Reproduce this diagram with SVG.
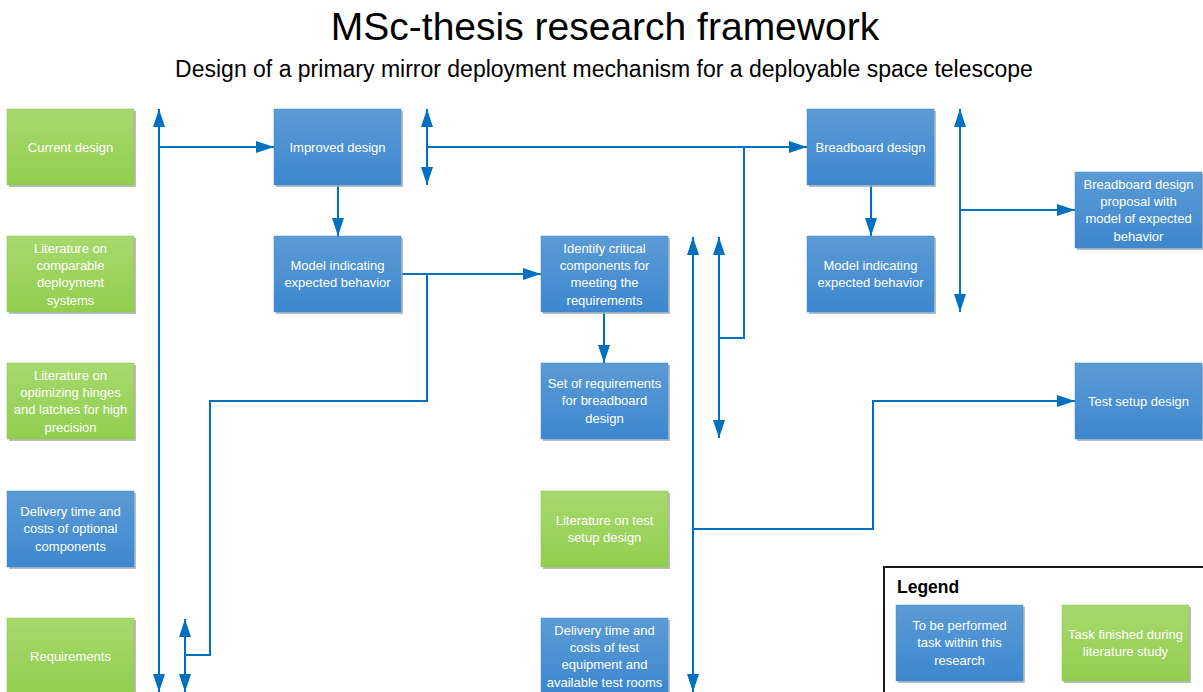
<svg xmlns="http://www.w3.org/2000/svg" width="1203" height="692" viewBox="0 0 1203 692">
<defs>
<linearGradient id="gBlue" x1="0" y1="0" x2="0" y2="1"><stop offset="0" stop-color="#5B9BD5"/><stop offset="1" stop-color="#3D87CF"/></linearGradient>
<linearGradient id="gGreen" x1="0" y1="0" x2="0" y2="1"><stop offset="0" stop-color="#A7D86E"/><stop offset="1" stop-color="#92CF4E"/></linearGradient>
<marker id="ah" viewBox="0 0 18 12" markerWidth="18" markerHeight="12" refX="18" refY="6" orient="auto-start-reverse" markerUnits="userSpaceOnUse"><path d="M0,0 L18,6 L0,12 Z" fill="#0070C0"/></marker>
</defs>
<style>
.blue{fill:url(#gBlue);stroke:#4A8CCB;stroke-width:0.5}
.green{fill:url(#gGreen);stroke:#8CC24E;stroke-width:0.5}
.sh{fill:#A3ADB7;opacity:0.8}
.t{font-family:"Liberation Sans",Arial,sans-serif;font-size:13px;fill:#FFFFFF;text-anchor:middle}
.c{fill:none;stroke:#0070C0;stroke-width:2}
.a1{marker-end:url(#ah)}
.a2{marker-start:url(#ah);marker-end:url(#ah)}
</style>
<rect width="1203" height="692" fill="#FFFFFF"/>
<text x="605" y="40" font-family="'Liberation Sans',Arial,sans-serif" font-size="39" text-anchor="middle" fill="#000">MSc-thesis research framework</text>
<text x="604" y="77" font-family="'Liberation Sans',Arial,sans-serif" font-size="23" text-anchor="middle" fill="#000">Design of a primary mirror deployment mechanism for a deployable space telescope</text>

<g id="connectors">
<path class="c a2" d="M159,109 V692"/>
<path class="c a1" d="M159,147 H274"/>
<path class="c a2" d="M427,109 V185"/>
<path class="c a1" d="M427,147 H807"/>
<path class="c" d="M744,147 V338 H719"/>
<path class="c a2" d="M719,237 V438"/>
<path class="c a1" d="M338,185 V236"/>
<path class="c a1" d="M401,274 H541"/>
<path class="c" d="M427,274 V401 H210 V655 H185"/>
<path class="c a2" d="M185,619 V692"/>
<path class="c a1" d="M604,312 V363"/>
<path class="c a2" d="M693,237 V692"/>
<path class="c a1" d="M693,529 H873 V401 H1075"/>
<path class="c a1" d="M871,185 V236"/>
<path class="c a2" d="M960,109 V312"/>
<path class="c a1" d="M960,210 H1075"/>
</g>

<g id="n_current"><rect class="sh" x="9" y="111" width="127" height="76"/><rect class="green" x="7" y="109" width="127" height="76"/><text class="t" x="70.5" y="151.5">Current design</text></g>
<g id="n_lit_comparable"><rect class="sh" x="9" y="238" width="127" height="76"/><rect class="green" x="7" y="236" width="127" height="76"/><text class="t" x="70.5" y="252.5">Literature on</text><text class="t" x="70.5" y="269.8">comparable</text><text class="t" x="70.5" y="287.2">deployment</text><text class="t" x="70.5" y="304.5">systems</text></g>
<g id="n_lit_hinges"><rect class="sh" x="9" y="365" width="127" height="76"/><rect class="green" x="7" y="363" width="127" height="76"/><text class="t" x="70.5" y="379.5">Literature on</text><text class="t" x="70.5" y="396.8">optimizing hinges</text><text class="t" x="70.5" y="414.2">and latches for high</text><text class="t" x="70.5" y="431.5">precision</text></g>
<g id="n_delivery_optional"><rect class="sh" x="9" y="493" width="127" height="76"/><rect class="blue" x="7" y="491" width="127" height="76"/><text class="t" x="70.5" y="516">Delivery time and</text><text class="t" x="70.5" y="533.3">costs of optional</text><text class="t" x="70.5" y="550.6">components</text></g>
<g id="n_requirements"><rect class="sh" x="9" y="620" width="127" height="76"/><rect class="green" x="7" y="618" width="127" height="76"/><text class="t" x="70.5" y="660.5">Requirements</text></g>

<g id="n_improved"><rect class="sh" x="276" y="111" width="127" height="76"/><rect class="blue" x="274" y="109" width="127" height="76"/><text class="t" x="337.5" y="151.5">Improved design</text></g>
<g id="n_model1"><rect class="sh" x="276" y="238" width="127" height="76"/><rect class="blue" x="274" y="236" width="127" height="76"/><text class="t" x="337.5" y="270">Model indicating</text><text class="t" x="337.5" y="287.3">expected behavior</text></g>

<g id="n_identify"><rect class="sh" x="543" y="238" width="127" height="76"/><rect class="blue" x="541" y="236" width="127" height="76"/><text class="t" x="604.5" y="252.5">Identify critical</text><text class="t" x="604.5" y="269.8">components for</text><text class="t" x="604.5" y="287.2">meeting the</text><text class="t" x="604.5" y="304.5">requirements</text></g>
<g id="n_setreq"><rect class="sh" x="543" y="365" width="127" height="76"/><rect class="blue" x="541" y="363" width="127" height="76"/><text class="t" x="604.5" y="388">Set of requirements</text><text class="t" x="604.5" y="405.3">for breadboard</text><text class="t" x="604.5" y="422.6">design</text></g>
<g id="n_lit_test"><rect class="sh" x="543" y="493" width="127" height="76"/><rect class="green" x="541" y="491" width="127" height="76"/><text class="t" x="604.5" y="524.5">Literature on test</text><text class="t" x="604.5" y="541.8">setup design</text></g>
<g id="n_delivery_test"><rect class="sh" x="543" y="620" width="127" height="76"/><rect class="blue" x="541" y="618" width="127" height="76"/><text class="t" x="604.5" y="634.5">Delivery time and</text><text class="t" x="604.5" y="651.8">costs of test</text><text class="t" x="604.5" y="669.2">equipment and</text><text class="t" x="604.5" y="686.5">available test rooms</text></g>

<g id="n_breadboard"><rect class="sh" x="809" y="111" width="127" height="76"/><rect class="blue" x="807" y="109" width="127" height="76"/><text class="t" x="870.5" y="151.5">Breadboard design</text></g>
<g id="n_model2"><rect class="sh" x="809" y="238" width="127" height="76"/><rect class="blue" x="807" y="236" width="127" height="76"/><text class="t" x="870.5" y="270">Model indicating</text><text class="t" x="870.5" y="287.3">expected behavior</text></g>

<g id="n_proposal"><rect class="sh" x="1077" y="174" width="127" height="76"/><rect class="blue" x="1075" y="172" width="127" height="76"/><text class="t" x="1138.5" y="188.5">Breadboard design</text><text class="t" x="1138.5" y="205.8">proposal with</text><text class="t" x="1138.5" y="223.2">model of expected</text><text class="t" x="1138.5" y="240.5">behavior</text></g>
<g id="n_testsetup"><rect class="sh" x="1077" y="365" width="127" height="76"/><rect class="blue" x="1075" y="363" width="127" height="76"/><text class="t" x="1138.5" y="405.5">Test setup design</text></g>

<g id="legend">
<rect x="884" y="567" width="330" height="140" fill="#FFFFFF" stroke="#1A1A1A" stroke-width="2"/>
<text x="897" y="593" font-family="'Liberation Sans',Arial,sans-serif" font-size="17.5" font-weight="bold" fill="#000">Legend</text>
<g id="legend_blue"><rect class="sh" x="898" y="607" width="127" height="76"/><rect class="blue" x="896" y="605" width="127" height="76"/><text class="t" x="959.5" y="630">To be performed</text><text class="t" x="959.5" y="647.3">task within this</text><text class="t" x="959.5" y="664.6">research</text></g>
<g id="legend_green"><rect class="sh" x="1064" y="607" width="127" height="76"/><rect class="green" x="1062" y="605" width="127" height="76"/><text class="t" x="1125.5" y="639">Task finished during</text><text class="t" x="1125.5" y="656.3">literature study</text></g>
</g>
</svg>
